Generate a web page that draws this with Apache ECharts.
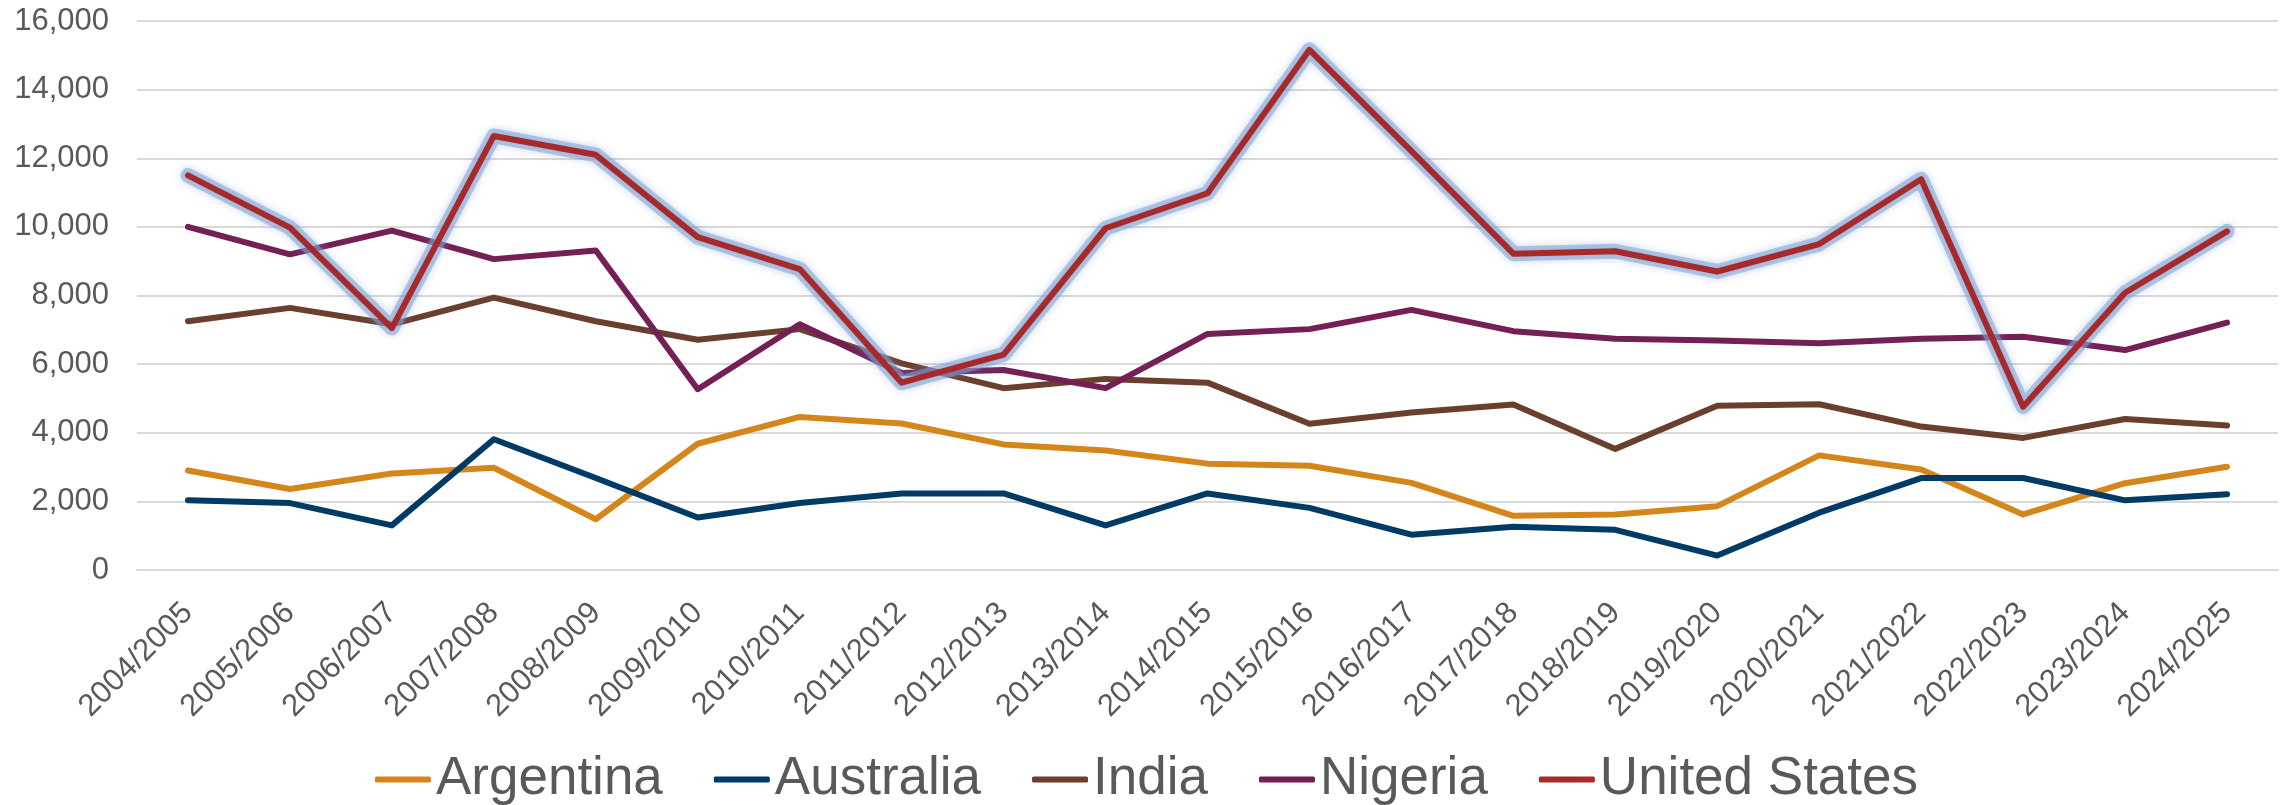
<!DOCTYPE html>
<html>
<head>
<meta charset="utf-8">
<title>Line chart</title>
<script src="https://cdn.jsdelivr.net/npm/echarts@6/dist/echarts.min.js"></script>
<style>
  html, body { margin: 0; padding: 0; background: #ffffff; }
  #chart { width: 2293px; height: 805px; }
</style>
</head>
<body>
<div id="chart"></div>
<script>
  // categories (school years)
  var years = ['2004/2005','2005/2006','2006/2007','2007/2008','2008/2009','2009/2010','2010/2011',
    '2011/2012','2012/2013','2013/2014','2014/2015','2015/2016','2016/2017','2017/2018',
    '2018/2019','2019/2020','2020/2021','2021/2022','2022/2023','2023/2024','2024/2025']

  // values
  var argentina = [2900, 2360, 2810, 2980, 1480, 3680, 4460, 4270, 3660, 3480, 3100, 3040, 2540, 1580, 1620, 1860, 3340, 2930, 1620, 2530, 3010]
  var australia = [2030, 1950, 1300, 3810, 2680, 1530, 1950, 2230, 2230, 1300, 2230, 1810, 1030, 1260, 1170, 420, 1670, 2680, 2680, 2030, 2210]
  var india = [7250, 7640, 7160, 7940, 7250, 6710, 7020, 6020, 5300, 5570, 5460, 4260, 4590, 4820, 3530, 4790, 4830, 4180, 3850, 4400, 4210]
  var nigeria = [10000, 9200, 9890, 9060, 9310, 5270, 7160, 5740, 5830, 5300, 6880, 7020, 7580, 6960, 6740, 6690, 6610, 6740, 6800, 6410, 7210]
  var unitedStates = [11500, 9980, 7050, 12650, 12100, 9700, 8770, 5460, 6280, 9960, 10980, 15160, 12210, 9220, 9290, 8700, 9500, 11390, 4760, 8080, 9870]

  var yTicks = [0, 2000, 4000, 6000, 8000, 10000, 12000, 14000, 16000]

  var FONT = '"Liberation Sans", Arial, sans-serif'
  var TEXT = '#595959'

  function lineSeries(name, data, color) {
    return {
      name: name,
      type: 'line',
      data: data,
      symbol: 'none',
      smooth: false,
      lineStyle: { color: color, width: 6, cap: 'round', join: 'round' },
      itemStyle: { color: color },
      emphasis: { disabled: true }
    }
  }

  // soft blue glow under the United States line (not in the legend)
  var usGlow = lineSeries('US glow', unitedStates, 'rgba(125,160,212,0.55)')
  usGlow.lineStyle.width = 15
  usGlow.lineStyle.shadowColor = 'rgba(125,160,212,0.7)'
  usGlow.lineStyle.shadowBlur = 8
  usGlow.silent = true

  var chart = echarts.init(document.getElementById('chart'))
  chart.setOption({
    animation: false,
    backgroundColor: '#ffffff',
    textStyle: { fontFamily: FONT },
    grid: { left: 137, right: 15, top: 21, bottom: 235, containLabel: false },
    legend: {
      data: ['Argentina', 'Australia', 'India', 'Nigeria', 'United States'],
      left: 'center',
      top: 748,
      icon: 'roundRect',
      itemWidth: 56,
      itemHeight: 6,
      itemGap: 51,
      textStyle: { color: TEXT, fontSize: 53, fontFamily: FONT }
    },
    xAxis: {
      type: 'category',
      data: years,
      boundaryGap: true,
      axisLine: { show: true, lineStyle: { color: '#d9d9d9', width: 2 } },
      axisTick: { show: false },
      axisLabel: { rotate: 45, interval: 0, margin: 38, color: TEXT, fontSize: 31, fontFamily: FONT }
    },
    yAxis: {
      type: 'value',
      min: yTicks[0],
      max: yTicks[yTicks.length - 1],
      interval: 2000,
      axisLine: { show: false },
      axisTick: { show: false },
      splitLine: { lineStyle: { color: '#d9d9d9', width: 2 } },
      axisLabel: {
        margin: 28, color: TEXT, fontSize: 31, fontFamily: FONT,
        formatter: function (v) { return v.toLocaleString('en-US') }
      }
    },
    series: [
      lineSeries('Argentina', argentina, '#d4861a'),
      lineSeries('Australia', australia, '#003b66'),
      lineSeries('India', india, '#6a3f2e'),
      lineSeries('Nigeria', nigeria, '#741f55'),
      usGlow,
      lineSeries('United States', unitedStates, '#a62a2a')
    ]
  })
</script>
</body>
</html>
